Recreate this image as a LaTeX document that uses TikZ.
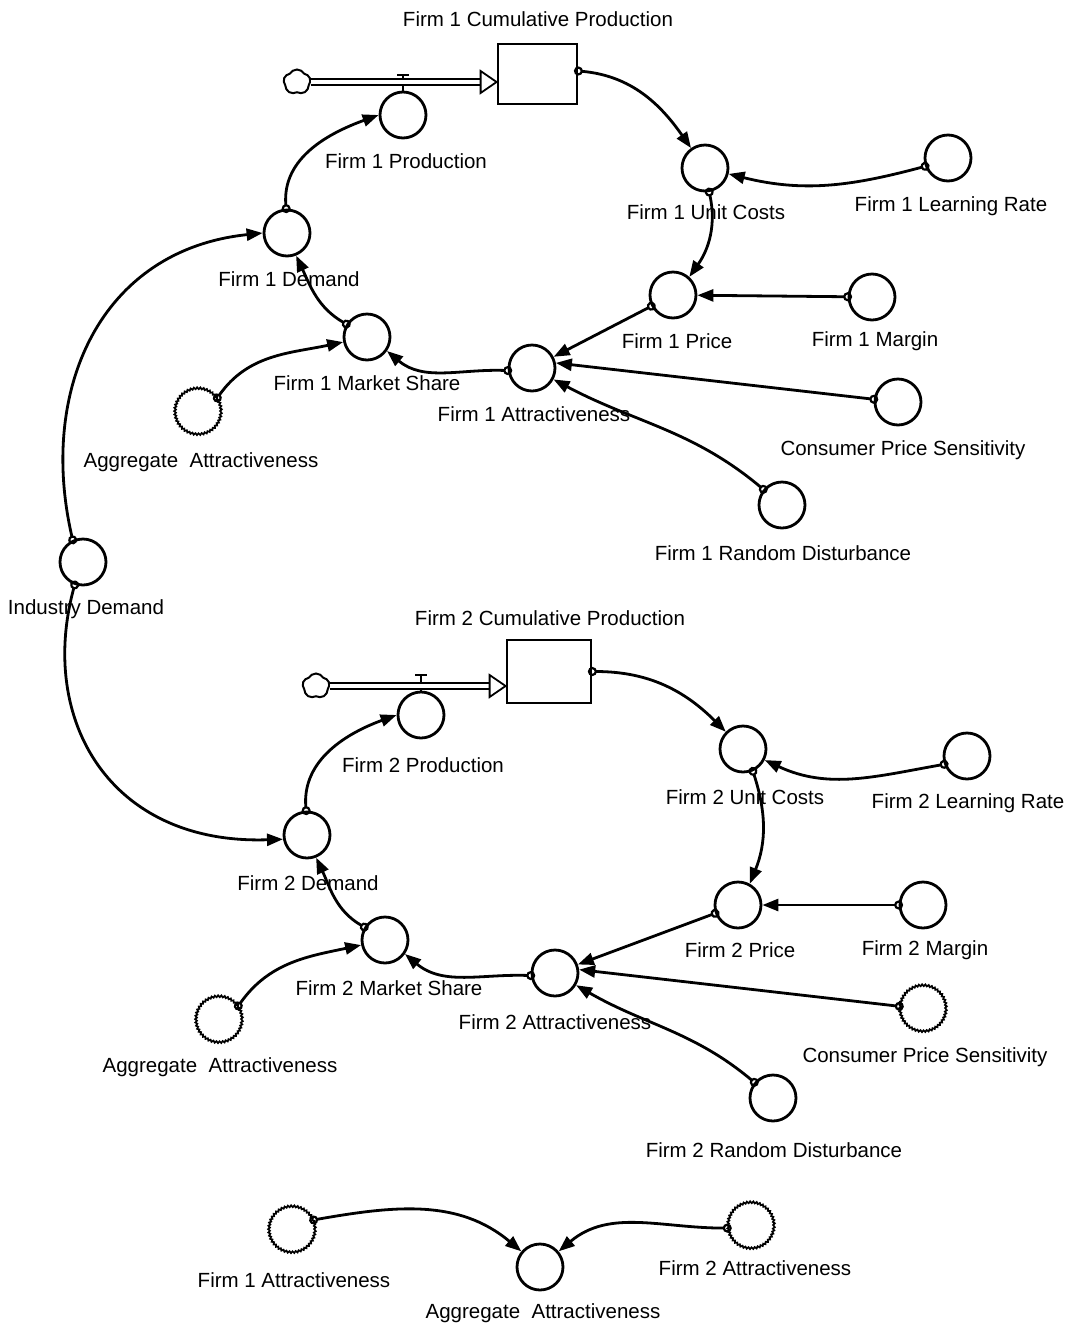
\documentclass[tikz,border=0pt]{standalone}
\usepackage{fontspec}
\setmainfont{Liberation Sans}
\usetikzlibrary{arrows.meta,shapes.symbols,decorations.pathmorphing}
\begin{document}
\begin{tikzpicture}[x=1pt,y=-1pt,
  var/.style={circle, draw, line width=2.8pt, minimum size=46pt, inner sep=0pt},
  ghost/.style={circle, draw, line width=1.7pt, minimum size=46pt, inner sep=0pt,
     decorate, decoration={snake, amplitude=0.9pt, segment length=3.2pt}},
  stock/.style={rectangle, draw, line width=2.8pt, inner sep=0pt},
  lbl/.style={font=\fontsize{20.5pt}{24pt}\selectfont, inner sep=0pt},
  link/.style={line width=2.8pt, shorten <=-4.5pt,
     {Circle[open,length=9pt,width=9pt,line width=2.2pt]}-{Triangle[length=16pt,width=12pt]}},
  pipe/.style={double, double distance=3.5pt, line width=1.8pt},
  valvest/.style={line width=2pt},
  cloudst/.style={cloud, cloud puffs=5, cloud puff arc=120, aspect=1.1, draw, line width=2pt, minimum width=27pt, minimum height=25pt, inner sep=0pt},
  tipst/.style={line width=1.8pt, fill=white, line join=miter}
]
\useasboundingbox (0,0) rectangle (1070,1326);
\fill[white] (0,0) rectangle (1070,1326);

% ---------------- Firm 1 ----------------
\node[stock, minimum width=79pt, minimum height=60pt] (S1) at (537.5,74) {};
\node[lbl] (S1l) at (538,19) {Firm 1 Cumulative Production};
\node[cloudst] (C1) at (297,82) {};
\node[var] (PR1) at (403,115) {};
\node[lbl] (PR1l) at (406,161) {Firm 1 Production};
\node[var] (UC1) at (705,168) {};
\node[lbl] (UC1l) at (706,212) {Firm 1 Unit Costs};
\node[var] (LR1) at (948,158) {};
\node[lbl] (LR1l) at (951,206) {Firm 1 Learning Rate};
\node[var] (D1) at (287,233) {};
\node[lbl] (D1l) at (289,279) {Firm 1 Demand};
\node[var] (P1) at (673,295) {};
\node[lbl] (P1l) at (677,341) {Firm 1 Price};
\node[var] (M1) at (872,297) {};
\node[lbl] (M1l) at (875,341) {Firm 1 Margin};
\node[var] (MS1) at (367,337) {};
\node[lbl] (MS1l) at (367,383) {Firm 1 Market Share};
\node[var] (A1) at (532,368) {};
\node[lbl] (A1l) at (534,414) {Firm 1 Attractiveness};
\node[ghost] (AG1) at (198,412) {};
\node[lbl] (AG1l) at (201,462) {Aggregate\ \ Attractiveness};
\node[var] (CPS1) at (898,402) {};
\node[lbl] (CPS1l) at (903,450) {Consumer Price Sensitivity};
\node[var] (RD1) at (782,505) {};
\node[lbl] (RD1l) at (783,553) {Firm 1 Random Disturbance};
\node[var] (ID) at (83,562) {};
\node[lbl] (IDl) at (86,609) {Industry Demand};

% flow 1
\draw[valvest] (PR1.north) -- ++(0,-16) ++(-6,0) -- ++(12,0);
\coordinate (T1) at (C1.east -| S1.west);
\draw[pipe] (C1.east) -- ([xshift=-15pt]T1);
\draw[tipst] ([shift={(-16,-11)}]T1) -- (T1) -- ([shift={(-16,11)}]T1) -- cycle;

% links 1
\draw[link] ([yshift=3pt]S1.east) to[out=-5,in=125] (UC1);
\draw[link] (LR1.200) to[out=195,in=-14] (UC1.-14);
\draw[link] (UC1.-80) to[out=-78,in=55] (P1.48);
\draw[link] (M1) -- (P1);
\draw[link] (P1) -- (A1);
\draw[link] (CPS1) -- (A1.12);
\draw[link] (RD1.140) to[out=140,in=-28] (A1.-28);
\draw[link] (A1.186) to[out=178,in=-40] (MS1.-35);
\draw[link] (AG1.36) to[out=55,in=192] (MS1.192);
\draw[link] (MS1.148) to[out=150,in=-65] (D1.-68);
\draw[link] (D1.92) to[out=95,in=200] (PR1.180);
\draw[link] (ID.115) .. controls (38,390) and (100,250) .. (D1.west);

% ---------------- Firm 2 ----------------
\node[stock, minimum width=84pt, minimum height=63pt] (S2) at (549,671.5) {};
\node[lbl] (S2l) at (550,618) {Firm 2 Cumulative Production};
\node[cloudst] (C2) at (316,686) {};
\node[var] (PR2) at (421,715) {};
\node[lbl] (PR2l) at (423,765) {Firm 2 Production};
\node[var] (UC2) at (743,749) {};
\node[lbl] (UC2l) at (745,797) {Firm 2 Unit Costs};
\node[var] (LR2) at (967,756) {};
\node[lbl] (LR2l) at (968,803) {Firm 2 Learning Rate};
\node[var] (D2) at (307,835) {};
\node[lbl] (D2l) at (308,883) {Firm 2 Demand};
\node[var] (P2) at (738,905) {};
\node[lbl] (P2l) at (740,950) {Firm 2 Price};
\node[var] (M2) at (923,905) {};
\node[lbl] (M2l) at (925,950) {Firm 2 Margin};
\node[var] (MS2) at (385,940) {};
\node[lbl] (MS2l) at (389,988) {Firm 2 Market Share};
\node[var] (A2) at (555,973) {};
\node[lbl] (A2l) at (555,1022) {Firm 2 Attractiveness};
\node[ghost] (AG2) at (219,1020) {};
\node[lbl] (AG2l) at (220,1067) {Aggregate\ \ Attractiveness};
\node[ghost] (CPS2) at (923,1009) {};
\node[lbl] (CPS2l) at (925,1057) {Consumer Price Sensitivity};
\node[var] (RD2) at (773,1098) {};
\node[lbl] (RD2l) at (774,1150) {Firm 2 Random Disturbance};

% flow 2
\draw[valvest] (PR2.north) -- ++(0,-16) ++(-6,0) -- ++(12,0);
\coordinate (T2) at (C2.east -| S2.west);
\draw[pipe] (C2.east) -- ([xshift=-15pt]T2);
\draw[tipst] ([shift={(-16,-11)}]T2) -- (T2) -- ([shift={(-16,11)}]T2) -- cycle;

% links 2
\draw[link] (S2.east) to[out=0,in=135] (UC2);
\draw[link] (LR2.200) to[out=190,in=-25] (UC2.-27);
\draw[link] (UC2.-66) to[out=-72,in=68] (P2.61);
\draw[link] (M2) -- (P2);
\draw[link] (P2.200) -- (A2);
\draw[link] (CPS2) -- (A2.8);
\draw[link] (RD2.140) to[out=140,in=-30] (A2.-30);
\draw[link] (A2.186) to[out=178,in=-40] (MS2.-35);
\draw[link] (AG2.36) to[out=55,in=192] (MS2.192);
\draw[link] (MS2.148) to[out=150,in=-65] (D2.-68);
\draw[link] (D2.92) to[out=95,in=200] (PR2.180);
\draw[link] (ID.250) .. controls (38,720) and (110,845) .. (D2.190);

% ---------------- Aggregate ----------------
\node[ghost] (FA1) at (292,1230) {};
\node[lbl] (FA1l) at (294,1280) {Firm 1 Attractiveness};
\node[var] (AGB) at (540,1267) {};
\node[lbl] (AGBl) at (543,1313) {Aggregate\ \ Attractiveness};
\node[ghost] (FA2) at (751,1226) {};
\node[lbl] (FA2l) at (755,1268) {Firm 2 Attractiveness};
\draw[link] (FA1.25) to[out=10,in=140] (AGB.140);
\draw[link] (FA2.185) to[out=180,in=40] (AGB.40);
\end{tikzpicture}
\end{document}
